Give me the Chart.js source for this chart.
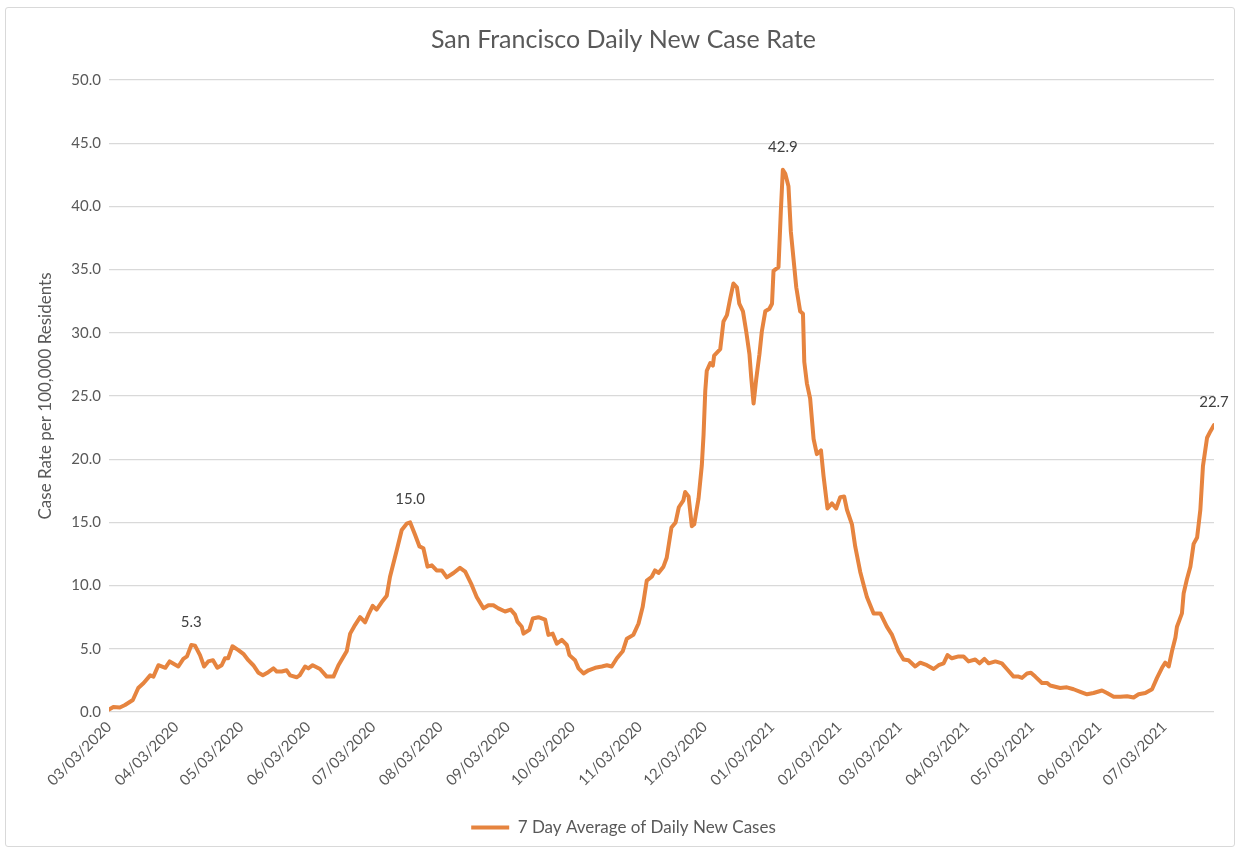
<!DOCTYPE html>
<html>
<head>
<meta charset="utf-8">
<title>San Francisco Daily New Case Rate</title>
<script src="https://cdn.jsdelivr.net/npm/chart.js@4/dist/chart.umd.min.js"></script>
<style>
  body { margin: 0; background: #fff; }
  #frame { position: absolute; left: 5px; top: 7px; width: 1228px; height: 838px;
           border: 1px solid #d9d9d9; border-radius: 3px; }
  #myChart { position: absolute; left: 0; top: 0; }
</style>
</head>
<body>
<div id="frame"></div>
<canvas id="myChart" width="1242" height="852"></canvas>
<script>
// days since 03/03/2020
var caseDays = [
  0, 2, 5, 7.4, 11, 13.5, 16, 19, 20.5, 22.8,
  26, 28, 32, 34.3, 36, 38, 39.7, 42, 43.9, 45.8,
  48, 50, 52, 53.5, 55, 57, 59.7, 62, 64.3, 66.6,
  69, 71, 73.5, 75.9, 77.4, 79.7, 82, 83.6, 86.6, 88,
  90.5, 92, 94, 97.4, 100.5, 103.6, 105.9, 109.7, 111.3, 113.6,
  115.9, 118.2, 119.7, 121.7, 123.5, 125.9, 128.2, 129.7, 132.8, 135.1,
  137.4, 139, 141.3, 143.3, 145.1, 147, 149, 151.2, 153.6, 155.9,
  159, 162, 164.4, 167.4, 169.7, 172.8, 175.1, 177.4, 179.7, 182.8,
  185.4, 187.4, 188.5, 190.5, 191.3, 194, 195.6, 198.2, 201.3, 202.8,
  204.8, 206.7, 209, 211.3, 212.5, 215.1, 216.7, 219, 221.3, 224.4,
  227.5, 229.8, 232, 234.4, 237.1, 239, 242, 244.4, 246.3, 248.2,
  250.5, 252, 253.6, 255.9, 257.4, 259.6, 261.5, 263, 265.1, 265.9,
  267.5, 269, 270.1, 272.1, 273.6, 274.4, 275.2, 275.9, 277.5, 278.7,
  279.3, 282.1, 283.6, 285.2, 286.7, 288.2, 289.8, 290.9, 292.6, 294.1,
  295.6, 296.4, 297.5, 298.7, 300.2, 301.3, 302.9, 304.8, 306, 306.7,
  309, 310.1, 311, 312.1, 313.6, 314.7, 315.9, 317.2, 319, 320.3,
  320.9, 322.1, 323.6, 325.2, 326.7, 328.6, 329.8, 331.6, 333.7, 335.6,
  337.5, 339.3, 340.6, 342.9, 344.4, 346.7, 348.3, 349.8, 352.9, 356,
  359, 361.4, 362.9, 364.4, 366.7, 369, 372.1, 374.4, 377.5, 380.6,
  382.9, 385.2, 387, 389, 392.1, 394.4, 396.7, 399.8, 401.8, 404,
  406, 409.1, 412.1, 414.4, 417.5, 419.8, 421.4, 423.7, 425.5, 427.5,
  430.6, 432.9, 434.4, 439, 442.1, 445.2, 448.3, 451.4, 454.4, 458.3,
  460.6, 463.7, 466.8, 469.9, 472.9, 475.2, 478.3, 481.4, 483.7, 486,
  487.5, 489.1, 490.6, 492.2, 492.9, 495.2, 496, 497.5, 499.1, 500.6,
  502.2, 503.7, 504.9, 506.8, 508.3, 510
];
var caseRate = [
  0.2, 0.4, 0.35, 0.55, 0.95, 1.9, 2.3, 2.9, 2.8, 3.7,
  3.5, 4.0, 3.6, 4.2, 4.4, 5.3, 5.25, 4.5, 3.6, 4.0,
  4.1, 3.5, 3.7, 4.25, 4.25, 5.2, 4.9, 4.6, 4.1, 3.7,
  3.1, 2.9, 3.15, 3.45, 3.2, 3.2, 3.3, 2.9, 2.75, 2.9,
  3.6, 3.45, 3.7, 3.4, 2.8, 2.8, 3.7, 4.8, 6.2, 6.9,
  7.5, 7.1, 7.7, 8.4, 8.1, 8.7, 9.2, 10.7, 12.8, 14.4,
  14.9, 15.0, 14.0, 13.1, 12.95, 11.5, 11.6, 11.2, 11.2, 10.65,
  11.0, 11.4, 11.1, 10.05, 9.1, 8.2, 8.45, 8.45, 8.2, 7.95,
  8.1, 7.7, 7.15, 6.75, 6.2, 6.5, 7.4, 7.5, 7.3, 6.1,
  6.2, 5.4, 5.7, 5.3, 4.5, 4.1, 3.45, 3.05, 3.3, 3.5,
  3.6, 3.7, 3.6, 4.25, 4.8, 5.8, 6.1, 7.0, 8.3, 10.4,
  10.7, 11.2, 11.0, 11.5, 12.2, 14.6, 15.0, 16.2, 16.75, 17.4,
  17.05, 14.7, 14.85, 16.9, 19.5, 21.9, 25.4, 27.0, 27.6, 27.4,
  28.2, 28.7, 30.9, 31.4, 32.7, 33.9, 33.6, 32.3, 31.7, 30.1,
  28.3, 26.5, 24.4, 26.3, 28.3, 30.1, 31.7, 31.9, 32.3, 34.9,
  35.2, 39.7, 42.9, 42.6, 41.6, 38.0, 35.9, 33.6, 31.7, 31.5,
  27.7, 26.0, 24.8, 21.6, 20.4, 20.7, 18.65, 16.1, 16.5, 16.1,
  17.0, 17.05, 16.0, 14.85, 13.1, 11.1, 10.05, 9.1, 7.8, 7.8,
  6.75, 6.1, 5.45, 4.8, 4.15, 4.1, 3.6, 3.9, 3.7, 3.4,
  3.7, 3.85, 4.5, 4.25, 4.4, 4.4, 4.0, 4.15, 3.85, 4.2,
  3.85, 4.0, 3.85, 3.4, 2.8, 2.8, 2.7, 3.05, 3.1, 2.8,
  2.3, 2.3, 2.1, 1.9, 1.95, 1.8, 1.6, 1.4, 1.5, 1.7,
  1.5, 1.2, 1.2, 1.25, 1.15, 1.4, 1.5, 1.8, 2.7, 3.5,
  3.9, 3.6, 4.8, 5.9, 6.75, 7.8, 9.4, 10.5, 11.5, 13.3,
  13.8, 16.0, 19.45, 21.7, 22.2, 22.7
];
// points that carry a value label
var labelDays = [38, 139, 311, 510];
var tickDays = [0, 31, 61, 92, 122, 153, 184, 214, 245, 275, 306, 337, 365, 396, 426, 457, 487];
var tickLabels = ['03/03/2020', '04/03/2020', '05/03/2020', '06/03/2020', '07/03/2020', '08/03/2020',
  '09/03/2020', '10/03/2020', '11/03/2020', '12/03/2020', '01/03/2021', '02/03/2021',
  '03/03/2021', '04/03/2021', '05/03/2021', '06/03/2021', '07/03/2021'];

var grey = '#595959';
var orange = '#E6843F';

var points = caseDays.map(function(d, i) { return {x: d, y: caseRate[i]}; });

var valueLabels = {
  id: 'valueLabels',
  afterDatasetsDraw: function(chart) {
    var meta = chart.getDatasetMeta(0);
    var ctx = chart.ctx;
    ctx.save();
    ctx.font = '15px Lato';
    ctx.fillStyle = '#404040';
    ctx.textAlign = 'center';
    ctx.textBaseline = 'middle';
    labelDays.forEach(function(d) {
      var i = caseDays.indexOf(d);
      var pt = meta.data[i];
      ctx.fillText(caseRate[i].toFixed(1), pt.x, pt.y - 23);
    });
    ctx.restore();
  }
};

var ctx = document.getElementById('myChart');
var myChart = new Chart(ctx, {
  type: 'line',
  data: {
    datasets: [{
      label: '7 Day Average of Daily New Cases',
      data: points,
      borderColor: orange,
      backgroundColor: orange,
      borderWidth: 4,
      pointRadius: 0,
      tension: 0,
      borderJoinStyle: 'round',
      borderCapStyle: 'round'
    }]
  },
  options: {
    responsive: false,
    animation: false,
    devicePixelRatio: 1,
    layout: { padding: { left: 33, right: 28, top: 8, bottom: 6 } },
    plugins: {
      title: {
        display: true,
        text: 'San Francisco Daily New Case Rate',
        color: grey,
        font: { family: 'Lato', size: 25, weight: 'normal' },
        padding: { top: 17, bottom: 25 }
      },
      legend: {
        position: 'bottom',
        labels: {
          color: grey,
          font: { family: 'Lato', size: 17 },
          usePointStyle: true,
          pointStyle: 'line',
          pointStyleWidth: 38,
          padding: 10
        }
      },
      tooltip: { enabled: false }
    },
    scales: {
      x: {
        type: 'linear',
        min: 0,
        max: 510,
        grid: { display: false, drawTicks: false },
        border: { display: false },
        afterBuildTicks: function(scale) {
          scale.ticks = tickDays.map(function(d) { return {value: d}; });
        },
        afterFit: function(scale) { scale.height = 97; },
        ticks: {
          autoSkip: false,
          minRotation: 45,
          maxRotation: 45,
          padding: 6,
          color: grey,
          font: { family: 'Lato', size: 15 },
          callback: function(value, index) { return tickLabels[index]; }
        }
      },
      y: {
        min: 0,
        max: 50,
        afterFit: function(scale) { scale.width = 76; },
        grid: { color: '#d9d9d9', lineWidth: 1.3, drawTicks: false },
        border: { display: false },
        ticks: {
          stepSize: 5,
          padding: 8,
          color: grey,
          font: { family: 'Lato', size: 15 },
          callback: function(v) { return v.toFixed(1); }
        },
        title: {
          display: true,
          text: 'Case Rate per 100,000 Residents',
          color: grey,
          font: { family: 'Lato', size: 17 },
          padding: { top: 2, bottom: 0 }
        }
      }
    }
  },
  plugins: [valueLabels]
});
</script>
</body>
</html>
